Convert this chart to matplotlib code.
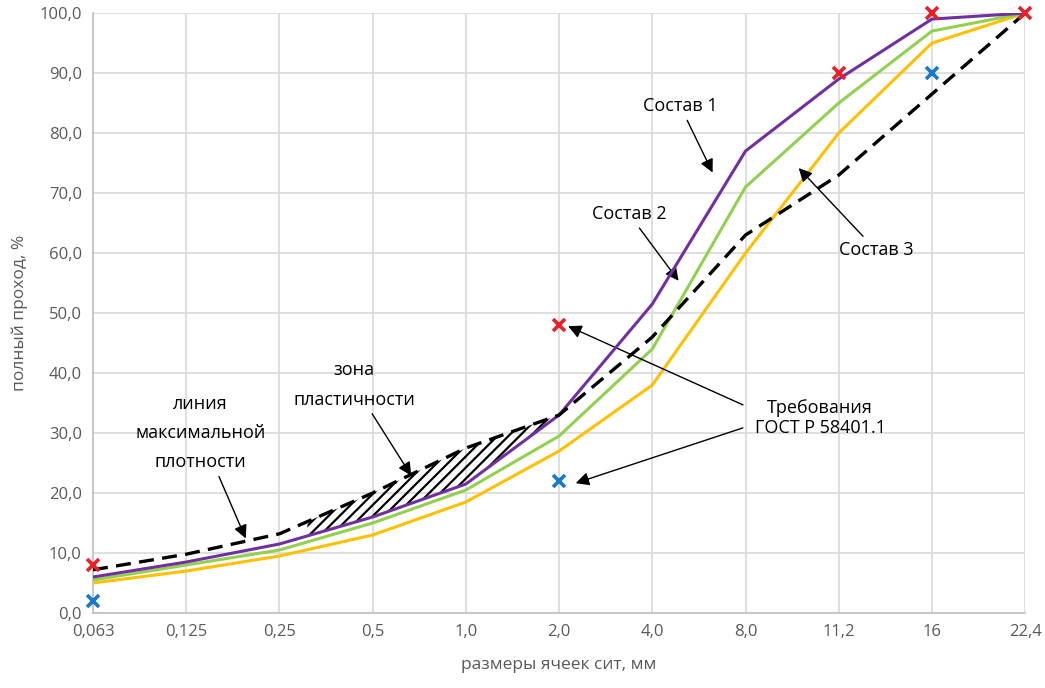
# кривые гранулометрического состава
import numpy as np
import matplotlib.pyplot as plt

plt.rcParams['font.family'] = ['Open Sans', 'DejaVu Sans']
plt.rcParams['hatch.linewidth'] = 1.6

sieves = ['0,063', '0,125', '0,25', '0,5', '1,0', '2,0', '4,0', '8,0', '11,2', '16', '22,4']
sostav1 = [6.0, 8.5, 11.5, 16.0, 21.5, 33.0, 51.5, 77.0, 89.0, 99.0, 100.0]
sostav2 = [5.5, 8.0, 10.5, 15.0, 20.5, 29.5, 44.0, 71.0, 85.0, 97.0, 100.0]
sostav3 = [5.0, 7.0, 9.5, 13.0, 18.5, 27.0, 38.0, 60.0, 80.0, 95.0, 100.0]
max_density = [7.2, 9.8, 13.2, 20.0, 27.5, 33.0, 46.0, 63.0, 73.0, 86.5, 100.0]
# требования ГОСТ
upper_idx = [0, 5, 8, 9, 10]
upper_val = [8.0, 48.0, 90.0, 100.0, 100.0]
lower_idx = [0, 5, 9]
lower_val = [2.0, 22.0, 90.0]
zone_from, zone_to = 2.3, 5.0

x = np.arange(len(sieves))
fig = plt.figure(figsize=(10.45, 6.88), dpi=100)
ax = fig.add_axes([0.089, 0.109, 0.892, 0.872])

ax.plot(x, sostav3, color='#ffc000', lw=2.2, zorder=3)
ax.plot(x, sostav2, color='#92d050', lw=2.2, zorder=3)
ax.plot(x, sostav1, color='#7030a0', lw=2.2, zorder=4)
ax.plot(x, max_density, color='black', lw=2.4, ls=(0, (4.5, 2.5)), zorder=5)

# зона пластичности
xz = np.linspace(zone_from, zone_to, 50)
ax.fill_between(xz, np.interp(xz, x, sostav1), np.interp(xz, x, max_density),
                facecolor='none', edgecolor='black', hatch='///', lw=0, zorder=2)

ax.plot(lower_idx, lower_val, ls='none', marker='x', ms=9, mew=2.6, color='#1a7ac8', zorder=6, clip_on=False)
ax.plot(upper_idx, upper_val, ls='none', marker='x', ms=9, mew=2.6, color='#e8202a', zorder=6, clip_on=False)

ax.set_xlim(0, 10)
ax.set_ylim(0, 100)
ax.set_xticks(x)
ax.set_xticklabels(sieves)
ax.set_yticks(np.arange(0, 101, 10))
ax.set_yticklabels([f'{v:.1f}'.replace('.', ',') for v in range(0, 101, 10)])
ax.tick_params(length=0, labelsize=12, labelcolor='#595959', pad=8)
ax.grid(True, color='#d9d9d9', lw=1.2)
ax.set_axisbelow(True)
for s in ['top', 'right']:
    ax.spines[s].set_visible(False)
for s in ['left', 'bottom']:
    ax.spines[s].set_color('#bfbfbf')
    ax.spines[s].set_linewidth(1.2)

ax.set_xlabel('размеры ячеек сит, мм', fontsize=12.5, color='#595959', labelpad=12)
ax.set_ylabel('полный проход, %', fontsize=12.5, color='#595959', labelpad=8)

arr = dict(arrowstyle='-|>', color='black', lw=1.0, mutation_scale=20)
ax.annotate('Состав 1', xy=(6.66, 73.0), xytext=(6.3, 84.5), fontsize=13,
            ha='center', va='center', arrowprops=arr)
ax.annotate('Состав 2', xy=(6.3, 55.0), xytext=(5.75, 66.5), fontsize=13,
            ha='center', va='center', arrowprops=arr)
ax.annotate('Состав 3', xy=(7.55, 74.5), xytext=(8.4, 60.5), fontsize=13,
            ha='center', va='center', arrowprops=arr)
ax.annotate('', xy=(5.07, 48.0), xytext=(7.0, 34.5), arrowprops=arr)
ax.annotate('', xy=(5.15, 21.5), xytext=(7.0, 31.0), arrowprops=arr)
ax.text(7.8, 32.5, 'Требования\nГОСТ Р 58401.1', fontsize=13, ha='center', va='center',
        linespacing=1.2)
ax.annotate('зона\nпластичности', xy=(3.43, 22.5), xytext=(2.8, 38.0), fontsize=13,
            ha='center', va='center', linespacing=1.8, arrowprops=arr)
ax.annotate('линия\nмаксимальной\nплотности', xy=(1.65, 12.0), xytext=(1.15, 30.0), fontsize=13,
            ha='center', va='center', linespacing=1.8, arrowprops=arr)

plt.savefig('out.png', dpi=100)
